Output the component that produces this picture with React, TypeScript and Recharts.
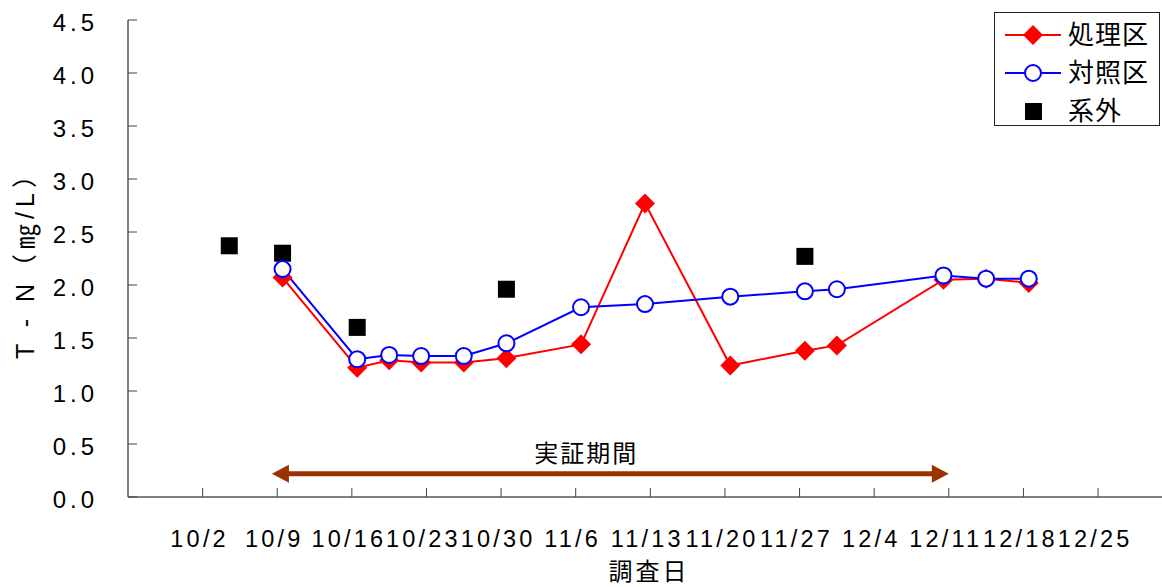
import React from 'react'
import {
  ComposedChart, Line, Scatter, XAxis, YAxis, Legend, ReferenceLine, ReferenceDot,
} from 'recharts'

if (typeof document !== 'undefined') document.body.style.margin = '0'

const FONT = "'Liberation Sans', Arial, 'Noto Sans CJK JP', sans-serif"

// tick labels
const xTickLabels = ['10/2', '10/9', '10/16', '10/23', '10/30', '11/6', '11/13', '11/20', '11/27', '12/4', '12/11', '12/18', '12/25']
const yTicks = [0, 0.5, 1, 1.5, 2, 2.5, 3, 3.5, 4, 4.5]

// survey dates and values (T-N mg/L)
const surveyDates = ['10/9', '10/16', '10/19', '10/22', '10/26', '10/30', '11/6', '11/12', '11/20', '11/27', '11/30', '12/10', '12/14', '12/18']
const treated = [2.07, 1.22, 1.29, 1.27, 1.27, 1.31, 1.44, 2.77, 1.24, 1.38, 1.43, 2.05, 2.06, 2.02]
const control = [2.15, 1.30, 1.34, 1.33, 1.33, 1.45, 1.79, 1.82, 1.89, 1.94, 1.96, 2.09, 2.06, 2.06]

const outsideDates = ['10/4', '10/9', '10/16', '10/30', '11/27']
const outside = [2.37, 2.30, 1.60, 1.96, 2.27]

const seriesNames = ['処理区', '対照区', '系外']

// 実証期間 arrow (days from 10/2) and label
const periodLabel = '実証期間'
const arrowDays = [6.5, 70]
const arrowLevel = 0.22
const periodLabelDay = 36
const periodLabelLevel = 0.41

const dayOf = (s: string) => {
  const [m, d] = s.split('/').map(Number)
  return (Date.UTC(2000, m - 1, d) - Date.UTC(2000, 9, 2)) / 86400000
}

// points sit in the middle of their day (date axis)
const treatedData = surveyDates.map((d, i) => ({ x: dayOf(d) + 0.5, v: treated[i] }))
const controlData = surveyDates.map((d, i) => ({ x: dayOf(d) + 0.5, v: control[i] }))
const outsideData = outsideDates.map((d, i) => ({ x: dayOf(d) + 0.5, v: outside[i] }))
const xTicks = xTickLabels.map(dayOf)
const labelByDay: Record<number, string> = {}
xTickLabels.forEach(l => { labelByDay[dayOf(l)] = l })

const YTick = (p: any) => (
  <g>
    <line x1={p.x} x2={p.x + 9} y1={p.y} y2={p.y} stroke="#444" />
    <text x={p.x - 30} y={p.y + 11} textAnchor="end" fontSize={24} fontFamily={FONT} fill="#000"
      style={{ letterSpacing: 4 }}>{Number(p.payload.value).toFixed(1)}</text>
  </g>
)

const XTick = (p: any) => (
  <g>
    <line x1={p.x} x2={p.x} y1={p.y} y2={p.y - 9} stroke="#444" />
    <text x={p.x - 3} y={p.y + 50} textAnchor="middle" fontSize={23.5} fontFamily={FONT} fill="#000"
      style={{ letterSpacing: 3.2 }}>{labelByDay[p.payload.value]}</text>
  </g>
)

const YTitle = (p: any) => {
  const vb = p.viewBox || { x: 0, y: 20, width: 128, height: 477 }
  const cx = vb.x + 34
  const cy = vb.y + vb.height / 2
  return (
    <text transform={`translate(${cx},${cy}) rotate(-90)`} textAnchor="middle" fontSize={25}
      fontFamily={FONT} fill="#000" style={{ letterSpacing: 5 }}>T - N（㎎/L）</text>
  )
}

const XTitle = (p: any) => {
  const vb = p.viewBox || { x: 128, y: 497, width: 1034, height: 90 }
  return (
    <text x={vb.x + vb.width / 2 + 4} y={vb.y + vb.height - 7} textAnchor="middle" fontSize={24}
      fontFamily={FONT} fill="#000" style={{ letterSpacing: 3 }}>調査日</text>
  )
}

const Diamond = (p: any) => {
  const { cx, cy } = p
  if (cx == null || cy == null) return <g key={`dm-${p.index}`} />
  return <polygon key={`dm-${p.index}`} points={`${cx},${cy - 10} ${cx + 10},${cy} ${cx},${cy + 10} ${cx - 10},${cy}`} fill="#FF0000" />
}

const Ring = (p: any) => {
  const { cx, cy } = p
  if (cx == null || cy == null) return <g key={`rg-${p.index}`} />
  return <circle key={`rg-${p.index}`} cx={cx} cy={cy} r={8} fill="#fff" stroke="#0000FF" strokeWidth={2} />
}

const Square = (p: any) => <rect x={p.cx - 8.5} y={p.cy - 8.5} width={17} height={17} fill="#000" />

const Arrow = (p: any) => {
  const { x1, x2, y1 } = p
  const head = 17
  const half = 9
  const c = '#9A3300'
  return (
    <g>
      <line x1={x1 + head - 1} x2={x2 - head + 1} y1={y1} y2={y1} stroke={c} strokeWidth={5} />
      <polygon points={`${x1},${y1} ${x1 + head},${y1 - half} ${x1 + head},${y1 + half}`} fill={c} />
      <polygon points={`${x2},${y1} ${x2 - head},${y1 - half} ${x2 - head},${y1 + half}`} fill={c} />
    </g>
  )
}

const PeriodText = (p: any) => (
  <text x={p.cx} y={p.cy} textAnchor="middle" dominantBaseline="central" fontSize={24} fontFamily={FONT}
    fill="#000" style={{ letterSpacing: 2 }}>{periodLabel}</text>
)

const LegendBox = (props: any) => {
  const items = (props.payload || []) as any[]
  return (
    <div style={{
      border: '1px solid #222', background: '#fff', width: 166, height: 114, boxSizing: 'border-box',
      paddingTop: 3, fontFamily: FONT,
    }}>
      {items.map((it, i) => (
        <div key={i} style={{ display: 'flex', alignItems: 'center', height: 38 }}>
          <svg width={73} height={24} style={{ display: 'block' }}>
            {it.type !== 'square' && <line x1={10} x2={66} y1={12} y2={12} stroke={it.color} strokeWidth={2} />}
            {it.type === 'diamond' && <polygon points="38,2 48,12 38,22 28,12" fill="#FF0000" />}
            {it.type === 'circle' && <circle cx={38} cy={12} r={8} fill="#fff" stroke="#0000FF" strokeWidth={2} />}
            {it.type === 'square' && <rect x={30} y={4} width={17} height={17} fill="#000" />}
          </svg>
          <span style={{ fontSize: 26, letterSpacing: 1, lineHeight: '38px', color: '#000' }}>{it.value}</span>
        </div>
      ))}
    </div>
  )
}

export default function App() {
  return (
    <div style={{ width: 1162, height: 587, background: '#fff', fontFamily: FONT }}>
      <ComposedChart width={1162} height={587} margin={{ top: 20, right: 0, bottom: 0, left: 0 }}>
        <XAxis type="number" dataKey="x" domain={[-7, 90]} ticks={xTicks} allowDataOverflow
          height={90} tickSize={0} tickMargin={0} tickLine={false} tick={XTick}
          axisLine={{ stroke: '#000' }} label={XTitle} />
        <YAxis type="number" dataKey="v" domain={[0, 4.5]} ticks={yTicks} allowDataOverflow
          width={128} tickSize={0} tickMargin={0} tickLine={false} tick={YTick}
          axisLine={{ stroke: '#000' }} label={YTitle} />
        <Legend layout="vertical" align="center" verticalAlign="middle" content={LegendBox}
          wrapperStyle={{ position: 'absolute', left: 994, top: 12, width: 166, height: 114 }} />
        <ReferenceLine segment={[{ x: arrowDays[0], y: arrowLevel }, { x: arrowDays[1], y: arrowLevel }]}
          shape={Arrow} />
        <ReferenceDot x={periodLabelDay} y={periodLabelLevel} r={0} shape={PeriodText} />
        <Line data={treatedData} dataKey="v" name={seriesNames[0]} type="linear" stroke="#FF0000"
          strokeWidth={2} dot={Diamond} activeDot={false} legendType="diamond" isAnimationActive={false} />
        <Line data={controlData} dataKey="v" name={seriesNames[1]} type="linear" stroke="#0000FF"
          strokeWidth={2} dot={Ring} activeDot={false} legendType="circle" isAnimationActive={false} />
        <Scatter data={outsideData} dataKey="v" name={seriesNames[2]} fill="#000" shape={Square}
          legendType="square" isAnimationActive={false} />
      </ComposedChart>
    </div>
  )
}
